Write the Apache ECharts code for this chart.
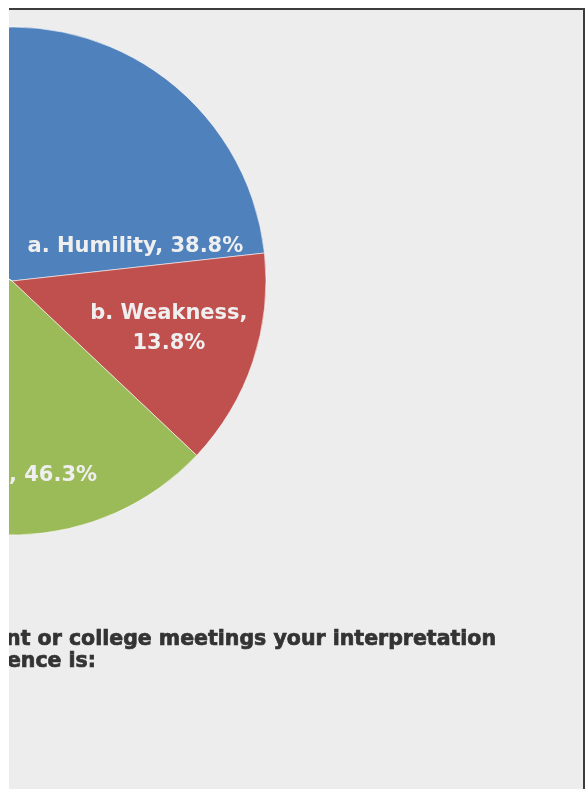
<!DOCTYPE html>
<html>
<head>
<meta charset="utf-8">
<script src="https://cdn.jsdelivr.net/npm/echarts@6/dist/echarts.min.js"></script>
<style>
  html, body { margin: 0; padding: 0; background: #ffffff; width: 586px; height: 789px; overflow: hidden; }
  #panel {
    position: absolute; left: 9px; top: 8px; width: 574px; height: 781px;
    background: #ededed; border-top: 2px solid #3c3c3c; border-right: 2px solid #3c3c3c;
    overflow: hidden;
  }
  #chart { position: absolute; left: -9px; top: -10px; width: 586px; height: 789px; }
</style>
</head>
<body>
<div id="panel"><div id="chart"></div></div>
<script>
// Survey answers and their shares (percent)
const categories = ['a. Humility', 'b. Weakness', 'c. Strength', 'd. Other'];
const shares = [38.8, 13.8, 46.3, 1.1];
const sliceColors = ['#4f81bd', '#c0504d', '#9bbb59', '#8064a2'];
const labelSeparators = [', ', ',\n', ', ', ', '];
const titleLines = ['In department or college meetings your interpretation', 'of silence is:'];

// Pie geometry (pixels)
const CX = 12, CY = 281, R = 254;

// Where each slice label sits: angle (deg, counter-clockwise from 3 o'clock) and fraction of radius
const labelSpots = [
  { angle: 15.8, dist: 0.505, align: 'center' },
  { angle: -16.7, dist: 0.645, align: 'center' },
  { angle: -66.4, dist: 0.837, align: 'right' },
  null
];

const titleFont = 'bold 20.5px "DejaVu Sans"';

const chart = echarts.init(document.getElementById('chart'), null, { renderer: 'canvas' });

const data = categories.map((name, i) => ({
  name,
  value: shares[i],
  itemStyle: { color: sliceColors[i] },
  label: {
    show: labelSpots[i] !== null,
    formatter: p => p.name + labelSeparators[i] + p.value.toFixed(1) + '%'
  }
}));

chart.setOption({
  backgroundColor: 'transparent',
  animation: false,
  graphic: [
    {
      type: 'text', x: 496, y: 640,
      style: { text: titleLines[0], font: titleFont, fill: '#333333', stroke: '#333333', lineWidth: 0.7,
               align: 'right', verticalAlign: 'middle' }
    },
    {
      type: 'text', x: 96, y: 662,
      style: { text: titleLines[1], font: titleFont, fill: '#333333', stroke: '#333333', lineWidth: 0.7,
               align: 'right', verticalAlign: 'middle' }
    }
  ],
  series: [{
    type: 'pie',
    center: [CX, CY],
    radius: [0, R],
    startAngle: 146,
    clockwise: true,
    silent: true,
    emphasis: { disabled: true },
    itemStyle: { borderColor: 'rgba(255,255,255,0.55)', borderWidth: 1 },
    label: {
      position: 'inside',
      color: '#efefef',
      fontFamily: 'DejaVu Sans',
      fontWeight: 'bold',
      fontSize: 21,
      lineHeight: 30,
      align: 'center'
    },
    labelLine: { show: false },
    labelLayout: p => {
      const s = labelSpots[p.dataIndex];
      if (!s) return {};
      const a = s.angle * Math.PI / 180;
      return {
        x: CX + Math.cos(a) * s.dist * R,
        y: CY - Math.sin(a) * s.dist * R,
        align: s.align,
        verticalAlign: 'middle'
      };
    },
    data
  }]
});
</script>
</body>
</html>
